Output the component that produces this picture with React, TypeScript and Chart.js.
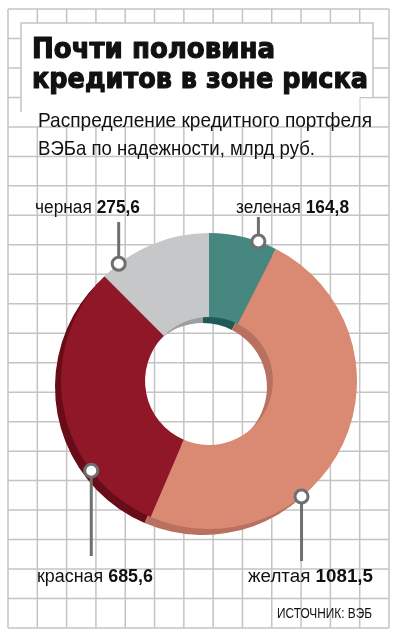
import React, { useEffect, useRef } from "react";
import { Chart, registerables } from "chart.js";

Chart.register(...registerables);

const categories = ["зеленая", "желтая", "красная", "черная"];
const values = [164.8, 1081.5, 685.6, 275.6];
const valueLabels = ["164,8", "1081,5", "685,6", "275,6"];
const titleLines = ["Почти половина", "кредитов в зоне риска"];
const subtitleLines = ["Распределение кредитного портфеля", "ВЭБа по надежности, млрд руб."];
const sourceText = "ИСТОЧНИК: ВЭБ";

const colors = ["#46887f", "#da8a73", "#8f1727", "#c6c7c9"];
const shadowColors = ["#1f5b56", "#b8705f", "#690c19", "#9d9ea1"];

// label layout: anchor angle (deg clockwise from top) on the outer edge, text box
const labelLayout = [
  { angle: 19.5, textX: 236, textY: 213, textW: 113, lineEnd: 217 },
  { angle: 141.3, textX: 248, textY: 582, textW: 125, lineEnd: 561 },
  { angle: 232.7, textX: 37, textY: 582, textW: 116, lineEnd: 556 },
  { angle: 322.4, textX: 35, textY: 213, textW: 105, lineEnd: 222 },
];

const W = 397;
const H = 640;
const GRID = "#c4c4c4";
const LEADER = "#6e6f71";

function fitText(
  ctx: CanvasRenderingContext2D,
  text: string,
  x: number,
  y: number,
  font: string,
  targetW: number,
  strokeW = 0
) {
  ctx.font = font;
  const w = ctx.measureText(text).width;
  const s = targetW / w;
  ctx.save();
  ctx.translate(x, y);
  ctx.scale(s, 1);
  ctx.fillText(text, 0, 0);
  if (strokeW > 0) {
    ctx.lineWidth = strokeW;
    ctx.lineJoin = "round";
    ctx.strokeStyle = ctx.fillStyle as string;
    ctx.strokeText(text, 0, 0);
  }
  ctx.restore();
}

const backgroundPlugin = {
  id: "bgGrid",
  beforeDraw(chart: any) {
    const ctx: CanvasRenderingContext2D = chart.ctx;
    ctx.save();
    ctx.fillStyle = "#ffffff";
    ctx.fillRect(0, 0, W, H);
    ctx.strokeStyle = GRID;
    ctx.lineWidth = 1.5;
    const x0 = 8, x1 = 389, y0 = 9, y1 = 628;
    const nx = 13, ny = 21;
    for (let i = 0; i <= nx; i++) {
      const x = x0 + ((x1 - x0) * i) / nx;
      ctx.beginPath();
      ctx.moveTo(x, y0);
      ctx.lineTo(x, y1);
      ctx.stroke();
    }
    for (let j = 0; j <= ny; j++) {
      const y = y0 + ((y1 - y0) * j) / ny;
      ctx.beginPath();
      ctx.moveTo(x0, y);
      ctx.lineTo(x1, y);
      ctx.stroke();
    }
    // white title box
    ctx.fillStyle = "#ffffff";
    ctx.beginPath();
    ctx.moveTo(21, 23);
    ctx.lineTo(373, 23);
    ctx.lineTo(373, 97);
    ctx.lineTo(359.5, 97);
    ctx.lineTo(359.5, 126);
    ctx.lineTo(21, 126);
    ctx.closePath();
    ctx.fill();
    ctx.beginPath();
    ctx.moveTo(21, 112);
    ctx.lineTo(21, 23);
    ctx.lineTo(373, 23);
    ctx.lineTo(373, 97);
    ctx.stroke();

    ctx.fillStyle = "#111111";
    ctx.textBaseline = "alphabetic";
    fitText(ctx, titleLines[0], 32, 58, 'bold 28px "DejaVu Sans"', 243, 1.2);
    fitText(ctx, titleLines[1], 32, 88, 'bold 28px "DejaVu Sans"', 336, 1.2);
    fitText(ctx, subtitleLines[0], 38, 127, '21px "Liberation Sans"', 334);
    fitText(ctx, subtitleLines[1], 38, 155, '21px "Liberation Sans"', 277);
    ctx.restore();
  },
  beforeDatasetsDraw(chart: any) {
    const ctx: CanvasRenderingContext2D = chart.ctx;
    const meta = chart.getDatasetMeta(0);
    ctx.save();
    ctx.translate(-6, 6);
    meta.data.forEach((arc: any, i: number) => {
      const p = arc.getProps(["x", "y", "startAngle", "endAngle", "innerRadius", "outerRadius"], true);
      ctx.beginPath();
      ctx.arc(p.x, p.y, p.outerRadius, p.startAngle, p.endAngle);
      ctx.arc(p.x, p.y, p.innerRadius, p.endAngle, p.startAngle, true);
      ctx.closePath();
      ctx.fillStyle = shadowColors[i];
      ctx.fill();
    });
    ctx.restore();
  },
  afterDraw(chart: any) {
    const ctx: CanvasRenderingContext2D = chart.ctx;
    const meta = chart.getDatasetMeta(0);
    const arc0 = meta.data[0];
    const cx = arc0.x, cy = arc0.y, R = arc0.outerRadius;
    ctx.save();
    labelLayout.forEach((L, i) => {
      const a = (L.angle * Math.PI) / 180;
      const px = cx + R * Math.sin(a);
      const py = cy - R * Math.cos(a);
      const r = 6.5;
      ctx.strokeStyle = LEADER;
      ctx.lineWidth = 3;
      ctx.beginPath();
      if (L.lineEnd < py) {
        ctx.moveTo(px, py - r);
        ctx.lineTo(px, L.lineEnd);
      } else {
        ctx.moveTo(px, py + r);
        ctx.lineTo(px, L.lineEnd);
      }
      ctx.stroke();
      ctx.beginPath();
      ctx.arc(px, py, r, 0, Math.PI * 2);
      ctx.fillStyle = "#ffffff";
      ctx.fill();
      ctx.stroke();

      // label text: regular name + bold value
      const regFont = '18px "Liberation Sans"';
      const boldFont = 'bold 18px "Liberation Sans"';
      ctx.font = regFont;
      const nameText = categories[i] + " ";
      const w1 = ctx.measureText(nameText).width;
      ctx.font = boldFont;
      const w2 = ctx.measureText(valueLabels[i]).width;
      const s = L.textW / (w1 + w2);
      ctx.fillStyle = "#111111";
      ctx.save();
      ctx.translate(L.textX, L.textY);
      ctx.scale(s, 1);
      ctx.font = regFont;
      ctx.fillText(nameText, 0, 0);
      ctx.font = boldFont;
      ctx.fillText(valueLabels[i], w1, 0);
      ctx.restore();
    });
    ctx.fillStyle = "#111111";
    fitText(ctx, sourceText, 277, 618, '14px "Liberation Sans"', 95);
    ctx.restore();
  },
};

export default function App() {
  const ref = useRef<HTMLCanvasElement | null>(null);
  useEffect(() => {
    if (!ref.current) return;
    const chart = new Chart(ref.current, {
      type: "doughnut",
      data: {
        labels: categories,
        datasets: [
          {
            data: values,
            backgroundColor: colors,
            borderWidth: 0,
          },
        ],
      },
      options: {
        responsive: false,
        animation: false,
        cutout: "43.2%",
        rotation: 0,
        layout: { padding: { left: 61, right: 40, top: 233, bottom: 111 } },
        plugins: {
          legend: { display: false },
          tooltip: { enabled: false },
          title: { display: false },
        },
      },
      plugins: [backgroundPlugin],
    } as any);
    return () => chart.destroy();
  }, []);
  return (
    <div style={{ position: "absolute", left: 0, top: 0, width: W, height: H }}>
      <canvas ref={ref} width={W} height={H} style={{ width: W, height: H, display: "block" }} />
    </div>
  );
}
